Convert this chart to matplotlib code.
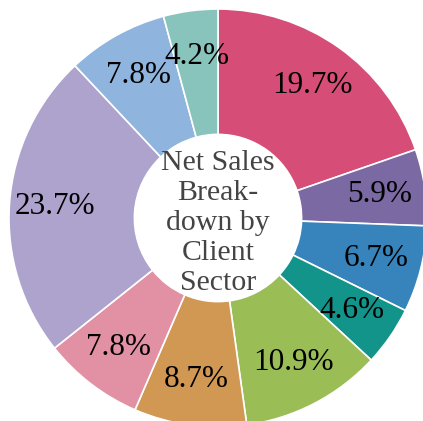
import matplotlib.pyplot as plt

# net sales share by client sector (clockwise from 12 o'clock)
shares = [19.7, 5.9, 6.7, 4.6, 10.9, 8.7, 7.8, 23.7, 7.8, 4.2]
colors = ['#d64d77', '#7a69a2', '#3784bd', '#12948a', '#9bbd56',
          '#d09853', '#e290a4', '#ada3cd', '#8fb4de', '#88c3bc']
center_text = 'Net Sales\nBreak-\ndown by\nClient\nSector'

fig = plt.figure(figsize=(4.23, 4.21), dpi=100)
ax = fig.add_axes([0, 0, 1, 1])

wedges, texts, autotexts = ax.pie(
    shares, colors=colors, startangle=90, counterclock=False,
    radius=1.0, autopct='%.1f%%', pctdistance=0.78,
    wedgeprops=dict(width=0.6, edgecolor='white', linewidth=1.2),
    textprops=dict(family='Liberation Serif', fontsize=22.5, color='black'))

ax.text(0, -0.025, center_text, ha='center', va='center',
        family='Liberation Serif', fontsize=21.5, color='#444444',
        linespacing=1.2)

# the pie sits slightly off-centre and is clipped at right and bottom
cx, cy, r = 218, 218, 209
ax.set_xlim(-cx / r, (423 - cx) / r)
ax.set_ylim(-(421 - cy) / r, cy / r)
ax.set_aspect('auto')
ax.axis('off')

fig.savefig('out.png', dpi=100)
